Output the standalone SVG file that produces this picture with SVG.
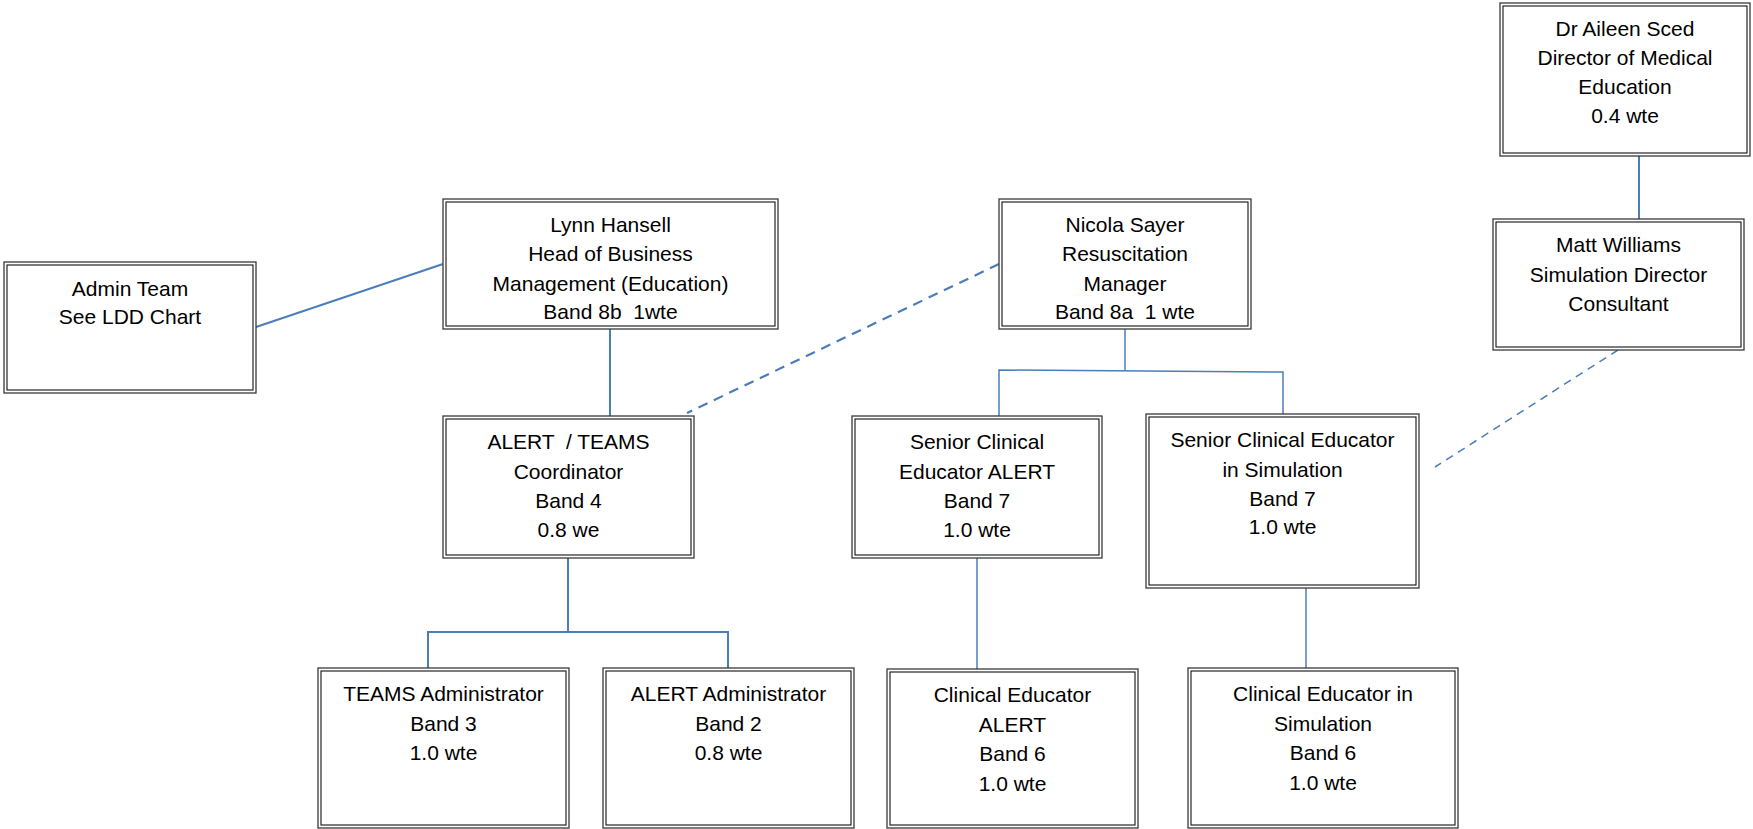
<svg xmlns="http://www.w3.org/2000/svg" width="1753" height="829" viewBox="0 0 1753 829">
<style>
.o{fill:#fff;stroke:#3a3a3a;stroke-width:1.3}
.i{fill:none;stroke:#111;stroke-width:1.1}
text{font-family:"Liberation Sans",Arial,sans-serif;font-size:21px;fill:#000;text-anchor:middle;white-space:pre}
.c{stroke:#4a7ebb;fill:none}
.w2{stroke-width:2}
.w15{stroke-width:1.5}
.d1{stroke-dasharray:10,7;stroke-width:2.2}
.d2{stroke-dasharray:8,6;stroke-width:1.5}
</style>
<rect width="1753" height="829" fill="#fff"/>
<g id="connectors">
<line class="c w2" x1="256" y1="327" x2="443" y2="264"/>
<line class="c w2" x1="610" y1="329" x2="610" y2="416"/>
<line class="c d1" x1="999" y1="264" x2="687" y2="413"/>
<line class="c w2" x1="1639" y1="156" x2="1639" y2="219"/>
<line class="c w15" x1="1125" y1="329" x2="1125" y2="371"/>
<polyline class="c w15" points="999,416 999,370 1283,372 1283,414"/>
<line class="c d2" x1="1618" y1="350" x2="1435" y2="467"/>
<line class="c w2" x1="568" y1="558" x2="568" y2="632"/>
<polyline class="c w2" points="428,668 428,632 728,632 728,668"/>
<line class="c w15" x1="977" y1="558" x2="977" y2="669"/>
<line class="c w15" x1="1306" y1="588" x2="1306" y2="668"/>
</g>
<g id="aileen">
<rect class="o" x="1500" y="3" width="250" height="153"/>
<rect class="i" x="1503" y="6" width="244" height="147"/>
<text x="1625" y="36">Dr Aileen Sced</text>
<text x="1625" y="65">Director of Medical</text>
<text x="1625" y="94">Education</text>
<text x="1625" y="123">0.4 wte</text>
</g>
<g id="matt">
<rect class="o" x="1493" y="219" width="251" height="131"/>
<rect class="i" x="1496" y="222" width="245" height="125"/>
<text x="1618.5" y="252">Matt Williams</text>
<text x="1618.5" y="282">Simulation Director</text>
<text x="1618.5" y="311">Consultant</text>
</g>
<g id="admin">
<rect class="o" x="4" y="262" width="252" height="131"/>
<rect class="i" x="7" y="265" width="246" height="125"/>
<text x="130" y="296">Admin Team</text>
<text x="130" y="324">See LDD Chart</text>
</g>
<g id="lynn">
<rect class="o" x="443" y="199" width="335" height="130"/>
<rect class="i" x="446" y="202" width="329" height="124"/>
<text x="610.5" y="232">Lynn Hansell</text>
<text x="610.5" y="261">Head of Business</text>
<text x="610.5" y="291">Management (Education)</text>
<text x="610.5" y="319">Band 8b  1wte</text>
</g>
<g id="nicola">
<rect class="o" x="999" y="199" width="252" height="130"/>
<rect class="i" x="1002" y="202" width="246" height="124"/>
<text x="1125" y="232">Nicola Sayer</text>
<text x="1125" y="261">Resuscitation</text>
<text x="1125" y="291">Manager</text>
<text x="1125" y="319">Band 8a  1 wte</text>
</g>
<g id="alert-teams">
<rect class="o" x="443" y="416" width="251" height="142"/>
<rect class="i" x="446" y="419" width="245" height="136"/>
<text x="568.5" y="449">ALERT  / TEAMS</text>
<text x="568.5" y="479">Coordinator</text>
<text x="568.5" y="508">Band 4</text>
<text x="568.5" y="537">0.8 we</text>
</g>
<g id="senior-alert">
<rect class="o" x="852" y="416" width="250" height="142"/>
<rect class="i" x="855" y="419" width="244" height="136"/>
<text x="977" y="449">Senior Clinical</text>
<text x="977" y="479">Educator ALERT</text>
<text x="977" y="508">Band 7</text>
<text x="977" y="537">1.0 wte</text>
</g>
<g id="senior-sim">
<rect class="o" x="1146" y="414" width="273" height="174"/>
<rect class="i" x="1149" y="417" width="267" height="168"/>
<text x="1282.5" y="447">Senior Clinical Educator</text>
<text x="1282.5" y="477">in Simulation</text>
<text x="1282.5" y="506">Band 7</text>
<text x="1282.5" y="534">1.0 wte</text>
</g>
<g id="teams-admin">
<rect class="o" x="318" y="668" width="251" height="160"/>
<rect class="i" x="321" y="671" width="245" height="154"/>
<text x="443.5" y="701">TEAMS Administrator</text>
<text x="443.5" y="731">Band 3</text>
<text x="443.5" y="760">1.0 wte</text>
</g>
<g id="alert-admin">
<rect class="o" x="603" y="668" width="251" height="160"/>
<rect class="i" x="606" y="671" width="245" height="154"/>
<text x="728.5" y="701">ALERT Administrator</text>
<text x="728.5" y="731">Band 2</text>
<text x="728.5" y="760">0.8 wte</text>
</g>
<g id="clin-alert">
<rect class="o" x="887" y="669" width="251" height="159"/>
<rect class="i" x="890" y="672" width="245" height="153"/>
<text x="1012.5" y="702">Clinical Educator</text>
<text x="1012.5" y="732">ALERT</text>
<text x="1012.5" y="761">Band 6</text>
<text x="1012.5" y="791">1.0 wte</text>
</g>
<g id="clin-sim">
<rect class="o" x="1188" y="668" width="270" height="160"/>
<rect class="i" x="1191" y="671" width="264" height="154"/>
<text x="1323" y="701">Clinical Educator in</text>
<text x="1323" y="731">Simulation</text>
<text x="1323" y="760">Band 6</text>
<text x="1323" y="790">1.0 wte</text>
</g>
</svg>
